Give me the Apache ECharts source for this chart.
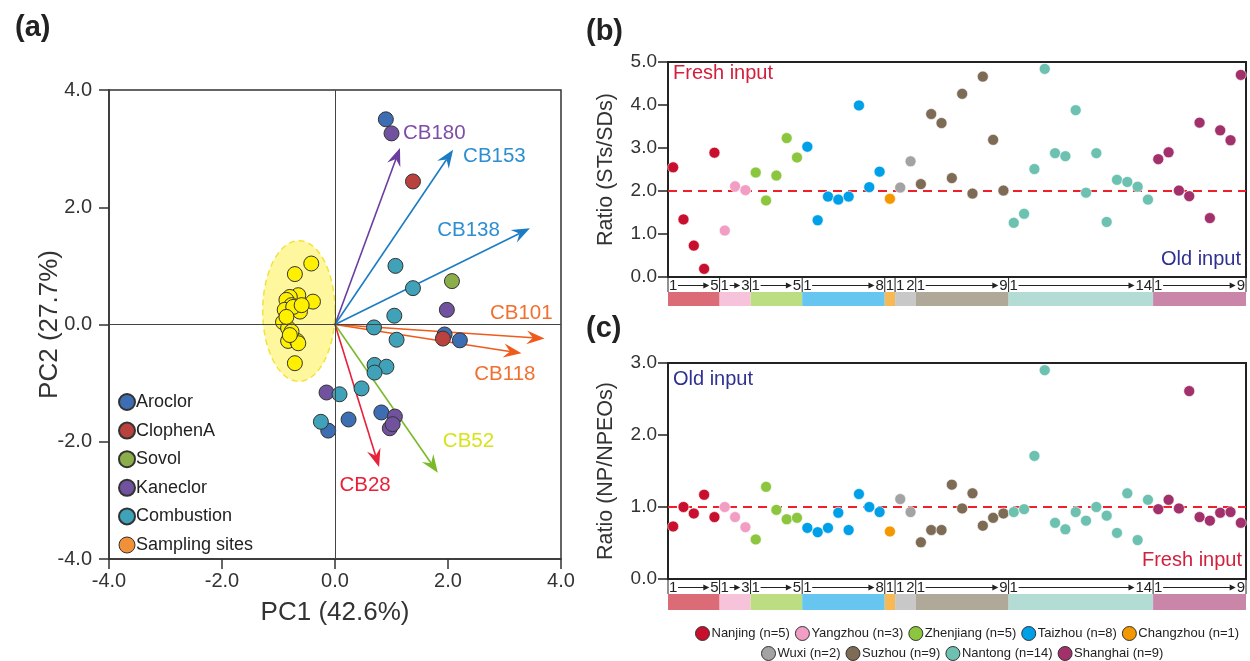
<!DOCTYPE html>
<html>
<head>
<meta charset="utf-8">
<script src="https://cdn.jsdelivr.net/npm/echarts@6/dist/echarts.min.js"></script>
<style>
  html, body { margin: 0; padding: 0; background: #fff; }
  #chart { width: 1250px; height: 661px; }
</style>
</head>
<body>
<div id="chart"></div>
<script>
// ---- data ----
// (a) PCA scores
var aroclor = [[0.90, 3.50], [1.94, -0.17], [2.21, -0.27], [0.82, -1.50], [0.24, -1.62], [-0.12, -1.81]];
var clophenA = [[1.38, 2.44], [1.91, -0.24]];
var sovol = [[2.07, 0.74]];
var kaneclor = [[1.00, 3.26], [1.98, 0.25], [-0.15, -1.16], [1.06, -1.57], [0.97, -1.77], [1.02, -1.70]];
var combustion = [[1.07, 1.00], [1.38, 0.62], [1.05, 0.15], [0.69, -0.05], [1.09, -0.26], [0.70, -0.69],
    [0.91, -0.72], [0.70, -0.82], [0.47, -1.09], [0.08, -1.19], [-0.25, -1.66]];
var samplingSites = [[-0.42, 1.04], [-0.71, 0.86], [-0.39, 0.39], [-0.65, 0.50], [-0.80, 0.47], [-0.86, 0.42],
    [-0.77, 0.33], [-0.62, 0.22], [-0.89, 0.25], [-0.92, 0.04], [-0.83, -0.06], [-0.83, -0.28], [-0.67, -0.28],
    [-0.65, -0.32], [-0.71, -0.66], [-0.74, 0.30], [-0.59, 0.33], [-0.86, 0.13], [-0.77, -0.12], [-0.80, -0.18]];
// ellipse round the sampling sites: centre x, centre y, radius x, radius y
var siteEllipse = [-0.64, 0.23, 0.64, 1.20];
// loadings
var loadingNames = ['CB180', 'CB153', 'CB138', 'CB101', 'CB118', 'CB52', 'CB28'];
var loadingX = [1.15, 2.09, 3.45, 3.71, 3.30, 1.82, 0.78];
var loadingY = [3.01, 2.98, 1.64, -0.24, -0.49, -2.53, -2.43];

// (b) and (c) sampling cities
var cities = ['Nanjing', 'Yangzhou', 'Zhenjiang', 'Taizhou', 'Changzhou', 'Wuxi', 'Suzhou', 'Nantong', 'Shanghai'];
var cityCounts = [5, 3, 5, 8, 1, 2, 9, 14, 9];
var stsRatio = [2.55, 1.34, 0.73, 0.19, 2.89,
    1.08, 2.11, 2.02,
    2.43, 1.78, 2.36, 3.23, 2.78,
    3.03, 1.32, 1.87, 1.80, 1.87, 3.99, 2.09, 2.45,
    1.82,
    2.08, 2.69,
    2.16, 3.79, 3.58, 2.30, 4.26, 1.94, 4.66, 3.19, 2.01,
    1.26, 1.47, 2.51, 4.84, 2.88, 2.81, 3.88, 1.96, 2.88, 1.28, 2.26, 2.21, 2.10, 1.80,
    2.74, 2.90, 2.01, 1.88, 3.59, 1.37, 3.41, 3.18, 4.70];
var npRatio = [0.73, 1.00, 0.91, 1.17, 0.86,
    1.00, 0.86, 0.72,
    0.55, 1.28, 0.96, 0.83, 0.85,
    0.71, 0.65, 0.71, 0.92, 0.68, 1.18, 1.00, 0.93,
    0.66,
    1.11, 0.93,
    0.51, 0.68, 0.68, 1.31, 0.98, 1.19, 0.74, 0.85, 0.91,
    0.93, 0.97, 1.71, 2.90, 0.78, 0.69, 0.93, 0.81, 1.00, 0.88, 0.64, 1.19, 0.54, 1.10,
    0.97, 1.10, 0.98, 2.61, 0.86, 0.81, 0.92, 0.93, 0.78];
var stsTicks = ['0.0', '1.0', '2.0', '3.0', '4.0', '5.0'];
var npTicks = ['0.0', '1.0', '2.0', '3.0'];

// ---- styles ----
var FONT = '"Liberation Sans", Arial, sans-serif';
var cityColors = ['#c8102e', '#f29ec4', '#8cc63f', '#00a0e9', '#f39800', '#a3a3a3', '#7d6b55', '#6cc1b0', '#a2306a'];
var bandColors = ['#dc6b78', '#f6c3da', '#bcdd82', '#67c6f0', '#f7b955', '#c8c8c8', '#b0a898', '#b3dcd4', '#c986a8'];
var loadingColors = ['#6a3d9e', '#1b7cc4', '#1b7cc4', '#f05a1a', '#f05a1a', '#7ab92a', '#e8203a'];
var loadingTextColors = ['#7d4ea8', '#2c8fd2', '#2c8fd2', '#f07030', '#f07030', '#d8e21e', '#e8203a'];
// label offsets (px) from arrow tip, with alignment
var loadingLabelStyle = [
    { dx: 3, dy: -15, align: 'left' },
    { dx: 10, dy: 7, align: 'left' },
    { dx: -30, dy: 2, align: 'right' },
    { dx: 8, dy: -25, align: 'right' },
    { dx: 14, dy: 21, align: 'right' },
    { dx: 5, dy: -31, align: 'left' },
    { dx: -14, dy: 18, align: 'center' }
];

var chart = echarts.init(document.getElementById('chart'));

// city groups as [first sample, last sample, city index]
var groups = [];
var pos = 1;
for (var g = 0; g < cities.length; g++) {
    groups.push([pos, pos + cityCounts[g] - 1, g]);
    pos += cityCounts[g];
}

function cityData(values, g) {
    var out = [];
    for (var i = groups[g][0]; i <= groups[g][1]; i++) {
        out.push([i, values[i - 1]]);
    }
    return out;
}

function arrowHead(x0, y0, x1, y1, len, half) {
    var dx = x1 - x0, dy = y1 - y0;
    var d = Math.sqrt(dx * dx + dy * dy);
    var ux = dx / d, uy = dy / d;
    var bx = x1 - ux * len, by = y1 - uy * len;
    var nx = x1 - ux * len * 0.65, ny = y1 - uy * len * 0.65;
    return [[x1, y1], [bx - uy * half, by + ux * half], [nx, ny], [bx + uy * half, by - ux * half]];
}

// draws "1 ---> n" row and coloured band below each city group
function renderGroupRow(params, api) {
    var start = api.value(0), end = api.value(1), gi = api.value(2);
    var cs = params.coordSys;
    var x0 = api.coord([start - 0.5, 0])[0];
    var x1 = api.coord([end + 0.5, 0])[0];
    var rowH = 15;
    var midY = cs.y + rowH / 2 + 1;
    var n = end - start + 1;
    var txt = { fontSize: 15, fontFamily: FONT, fill: '#222', verticalAlign: 'middle' };
    var children = [
        { type: 'rect', shape: { x: x0, y: cs.y + rowH, width: x1 - x0, height: cs.height - rowH }, style: { fill: bandColors[gi] } },
        { type: 'line', shape: { x1: x0, y1: cs.y, x2: x0, y2: cs.y + rowH }, style: { stroke: '#222', lineWidth: 1 } },
        { type: 'text', style: Object.assign({ text: '1', x: x0 + 1, y: midY, align: 'left' }, txt) }
    ];
    if (gi === cities.length - 1) {
        children.push({ type: 'line', shape: { x1: x1, y1: cs.y, x2: x1, y2: cs.y + rowH }, style: { stroke: '#222', lineWidth: 1 } });
    }
    if (n === 2) {
        children.push({ type: 'text', style: Object.assign({ text: '2', x: x1 - 1, y: midY, align: 'right' }, txt) });
    } else if (n > 2) {
        var label = String(n);
        var tw = label.length * 8.3;
        var ax0 = x0 + 10, ax1 = x1 - tw - 2;
        children.push({ type: 'text', style: Object.assign({ text: label, x: x1 - 1, y: midY, align: 'right' }, txt) });
        children.push({ type: 'line', shape: { x1: ax0, y1: midY, x2: ax1 - 4, y2: midY }, style: { stroke: '#222', lineWidth: 1 } });
        children.push({ type: 'polygon', shape: { points: [[ax1, midY], [ax1 - 6, midY - 3], [ax1 - 6, midY + 3]] }, style: { fill: '#222' } });
    }
    return { type: 'group', children: children };
}

function renderEllipse(params, api) {
    var pts = [];
    for (var k = 0; k <= 72; k++) {
        var t = k / 72 * Math.PI * 2;
        pts.push(api.coord([api.value(0) + api.value(2) * Math.cos(t), api.value(1) + api.value(3) * Math.sin(t)]));
    }
    return {
        type: 'polygon',
        shape: { points: pts },
        style: { fill: 'rgba(255, 246, 140, 0.85)', stroke: '#f2e33a', lineWidth: 1.5, lineDash: [6, 4] }
    };
}

function renderLoading(params, api) {
    var i = params.dataIndex;
    var o = api.coord([0, 0]);
    var p = api.coord([api.value(0), api.value(1)]);
    var head = arrowHead(o[0], o[1], p[0], p[1], 18, 7);
    var ls = loadingLabelStyle[i];
    return {
        type: 'group',
        children: [
            { type: 'line', shape: { x1: o[0], y1: o[1], x2: head[2][0], y2: head[2][1] }, style: { stroke: loadingColors[i], lineWidth: 1.6 } },
            { type: 'polygon', shape: { points: head }, style: { fill: loadingColors[i] } },
            {
                type: 'text',
                style: {
                    text: loadingNames[i], x: p[0] + ls.dx, y: p[1] + ls.dy, align: ls.align, verticalAlign: 'middle',
                    fontSize: 20.5, fontFamily: FONT, fill: loadingTextColors[i]
                }
            }
        ]
    };
}

var pcaStyle = function (color) {
    return { color: color, borderColor: '#333', borderWidth: 1, opacity: 1 };
};

var series = [
    {
        type: 'custom', xAxisIndex: 0, yAxisIndex: 0, renderItem: renderEllipse, data: [siteEllipse], z: 1, silent: true,
        markLine: {
            silent: true, symbol: 'none', label: { show: false },
            lineStyle: { color: '#444', width: 1, type: 'solid' },
            data: [{ xAxis: 0 }, { yAxis: 0 }]
        }
    },
    {
        type: 'custom', xAxisIndex: 0, yAxisIndex: 0, renderItem: renderLoading, z: 3, silent: true,
        data: loadingX.map(function (x, i) { return [x, loadingY[i]]; })
    },
    { name: 'Aroclor', type: 'scatter', xAxisIndex: 0, yAxisIndex: 0, symbolSize: 15, data: aroclor, itemStyle: pcaStyle('#3d6db3'), z: 4 },
    { name: 'ClophenA', type: 'scatter', xAxisIndex: 0, yAxisIndex: 0, symbolSize: 15, data: clophenA, itemStyle: pcaStyle('#b9413e'), z: 4 },
    { name: 'Sovol', type: 'scatter', xAxisIndex: 0, yAxisIndex: 0, symbolSize: 15, data: sovol, itemStyle: pcaStyle('#8cae4a'), z: 4 },
    { name: 'Kaneclor', type: 'scatter', xAxisIndex: 0, yAxisIndex: 0, symbolSize: 15, data: kaneclor, itemStyle: pcaStyle('#71529e'), z: 4 },
    { name: 'Combustion', type: 'scatter', xAxisIndex: 0, yAxisIndex: 0, symbolSize: 15, data: combustion, itemStyle: pcaStyle('#3fa2b8'), z: 4 },
    { name: 'Sampling sites', type: 'scatter', xAxisIndex: 0, yAxisIndex: 0, symbolSize: 15, data: samplingSites, itemStyle: pcaStyle('#fff000'), z: 4 }
];

cities.forEach(function (c, g) {
    var label = c + ' (n=' + cityCounts[g] + ')';
    var st = { color: cityColors[g], borderColor: '#fff', borderWidth: 0.6, opacity: 1 };
    var sb = { name: label, type: 'scatter', xAxisIndex: 1, yAxisIndex: 1, symbolSize: 11, data: cityData(stsRatio, g), itemStyle: st, z: 4 };
    var sc = { name: label, type: 'scatter', xAxisIndex: 3, yAxisIndex: 3, symbolSize: 11, data: cityData(npRatio, g), itemStyle: st, z: 4 };
    if (g === 0) {
        sb.markLine = { silent: true, symbol: 'none', label: { show: false }, lineStyle: { color: '#f0202a', width: 2, type: [9, 6] }, data: [{ yAxis: 2 }], z: 2 };
        sc.markLine = { silent: true, symbol: 'none', label: { show: false }, lineStyle: { color: '#f0202a', width: 2, type: [9, 6] }, data: [{ yAxis: 1 }], z: 2 };
    }
    series.push(sb, sc);
});

series.push({ type: 'custom', xAxisIndex: 2, yAxisIndex: 2, renderItem: renderGroupRow, data: groups, silent: true });
series.push({ type: 'custom', xAxisIndex: 4, yAxisIndex: 4, renderItem: renderGroupRow, data: groups, silent: true });

function ratioYAxis(grid, ticks, name) {
    return {
        type: 'value', gridIndex: grid, min: 0, max: ticks.length - 1, interval: 1,
        name: name, nameLocation: 'middle', nameGap: 51, nameTextStyle: { fontSize: 21.5, fontFamily: FONT, color: '#333' },
        axisLine: { show: true, onZero: false, lineStyle: { color: '#222', width: 2 } },
        axisTick: { show: true, length: 10, lineStyle: { color: '#222', width: 1.5 } },
        axisLabel: { margin: 11, fontSize: 19, fontFamily: FONT, color: '#333', formatter: function (v) { return ticks[Math.round(v)]; } },
        splitLine: { show: false }
    };
}

function ratioXAxis(grid) {
    return {
        type: 'value', gridIndex: grid, min: 0.5, max: 56.5,
        axisLine: { show: true, onZero: false, lineStyle: { color: '#222', width: 2 } },
        axisTick: { show: false }, axisLabel: { show: false }, splitLine: { show: false }
    };
}

var hiddenAxis = function (grid, min, max) {
    return { type: 'value', gridIndex: grid, min: min, max: max, show: false, splitLine: { show: false } };
};

var bottomLegendNames = cities.map(function (c, g) { return c + ' (n=' + cityCounts[g] + ')'; });
var bottomLegend = {
    orient: 'horizontal', itemWidth: 14, itemHeight: 14, itemGap: 5, icon: 'circle',
    itemStyle: { borderColor: '#333', borderWidth: 1 },
    textStyle: { fontSize: 13, fontFamily: FONT, color: '#222', padding: [0, 0, 0, -3] }
};

var option = {
    backgroundColor: '#fff',
    animation: false,
    title: [
        { text: '(a)', left: 10, top: 8, textStyle: { fontSize: 29, fontWeight: 'bold', fontFamily: FONT, color: '#222' } },
        { text: '(b)', left: 581, top: 12, textStyle: { fontSize: 29, fontWeight: 'bold', fontFamily: FONT, color: '#222' } },
        { text: '(c)', left: 581, top: 309, textStyle: { fontSize: 29, fontWeight: 'bold', fontFamily: FONT, color: '#222' } }
    ],
    grid: [
        { left: 109, top: 90, width: 452, height: 469, show: true, borderColor: '#333', borderWidth: 1.5, backgroundColor: 'transparent' },
        { left: 668, top: 62, width: 578, height: 215, show: true, borderColor: '#222', borderWidth: 2, backgroundColor: 'transparent' },
        { left: 668, top: 277, width: 578, height: 29 },
        { left: 668, top: 363, width: 578, height: 216, show: true, borderColor: '#222', borderWidth: 2, backgroundColor: 'transparent' },
        { left: 668, top: 579, width: 578, height: 31 }
    ],
    xAxis: [
        {
            type: 'value', gridIndex: 0, min: -4, max: 4, interval: 2,
            name: 'PC1 (42.6%)', nameLocation: 'middle', nameGap: 41, nameTextStyle: { fontSize: 26, fontFamily: FONT, color: '#333' },
            axisLine: { show: true, onZero: false, lineStyle: { color: '#333', width: 1.5 } },
            axisTick: { show: true, length: 10, lineStyle: { color: '#333', width: 1.5 } },
            axisLabel: { margin: 12, fontSize: 20, fontFamily: FONT, color: '#333', formatter: function (v) { return v.toFixed(1); } },
            splitLine: { show: false }
        },
        ratioXAxis(1),
        hiddenAxis(2, 0.5, 56.5),
        ratioXAxis(3),
        hiddenAxis(4, 0.5, 56.5)
    ],
    yAxis: [
        {
            type: 'value', gridIndex: 0, min: -4, max: 4, interval: 2,
            name: 'PC2 (27.7%)', nameLocation: 'middle', nameGap: 46, nameMoveOverlap: false,
            nameTextStyle: { fontSize: 26, fontFamily: FONT, color: '#333' },
            axisLine: { show: true, onZero: false, lineStyle: { color: '#333', width: 1.5 } },
            axisTick: { show: true, length: 10, lineStyle: { color: '#333', width: 1.5 } },
            axisLabel: { margin: 17, fontSize: 20, fontFamily: FONT, color: '#333', formatter: function (v) { return v.toFixed(1); } },
            splitLine: { show: false }
        },
        ratioYAxis(1, stsTicks, 'Ratio (STs/SDs)'),
        hiddenAxis(2, 0, 1),
        ratioYAxis(3, npTicks, 'Ratio (NP/NPEOs)'),
        hiddenAxis(4, 0, 1)
    ],
    legend: [
        {
            left: 113, top: 388, orient: 'vertical', itemWidth: 16, itemHeight: 16, itemGap: 10.6, icon: 'circle',
            textStyle: { fontSize: 18, fontFamily: FONT, color: '#222', padding: [0, 0, 0, -4] },
            data: ['Aroclor', 'ClophenA', 'Sovol', 'Kaneclor', 'Combustion',
                { name: 'Sampling sites', itemStyle: { color: '#f0913a', borderColor: '#333', borderWidth: 1 } }]
        },
        Object.assign({ left: 690, top: 621, data: bottomLegendNames.slice(0, 5) }, bottomLegend),
        Object.assign({ left: 756, top: 641, data: bottomLegendNames.slice(5) }, bottomLegend)
    ],
    graphic: [
        { type: 'text', left: 673, top: 63, style: { text: 'Fresh input', fontSize: 20, fontFamily: FONT, fill: '#d21f3c' } },
        { type: 'text', right: 9, top: 249, style: { text: 'Old input', fontSize: 20, fontFamily: FONT, fill: '#2e3192' } },
        { type: 'text', left: 673, top: 369, style: { text: 'Old input', fontSize: 20, fontFamily: FONT, fill: '#2e3192' } },
        { type: 'text', right: 8, top: 550, style: { text: 'Fresh input', fontSize: 20, fontFamily: FONT, fill: '#d21f3c' } }
    ],
    series: series
};

chart.setOption(option);
</script>
</body>
</html>
